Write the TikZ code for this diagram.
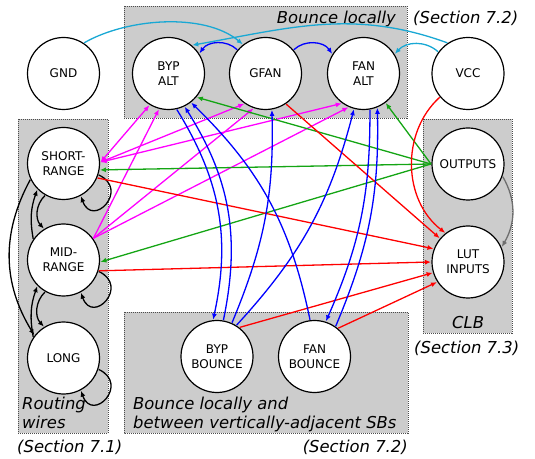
\documentclass[tikz,border=0pt]{standalone}
\usepackage{fontspec}
\setmainfont{DejaVu Sans}
\usetikzlibrary{arrows.meta}
\definecolor{boxgray}{RGB}{204,204,204}
\definecolor{cyanc}{RGB}{25,168,212}
\definecolor{bluec}{RGB}{0,0,255}
\definecolor{magc}{RGB}{255,0,255}
\definecolor{greenc}{RGB}{20,165,20}
\definecolor{redc}{RGB}{255,0,0}
\definecolor{grayc}{RGB}{110,110,110}
\begin{document}
\begin{tikzpicture}[x=1pt,y=1pt,
  >={Latex[length=6pt,width=5pt]},
  nd/.style={circle,draw=black,line width=1.2pt,fill=white,minimum size=72pt,
    inner sep=0pt,outer sep=1pt,align=center,font=\fontsize{12}{15}\selectfont},
  boxbg/.style={fill=boxgray},
  boxline/.style={draw=black!70,line width=0.9pt,dash pattern=on 1pt off 1pt},
  lbl/.style={font=\fontsize{16.4}{19}\selectfont\itshape,inner sep=0pt},
  ed/.style={line width=1.3pt},
  cy/.style={ed,draw=cyanc},
  bl/.style={ed,draw=bluec},
  mg/.style={ed,draw=magc},
  gr/.style={ed,draw=greenc},
  rd/.style={ed,draw=redc},
  gy/.style={ed,draw=grayc},
  bk/.style={ed,draw=black},
  selfloop/.style={bk,out=-25,in=-70,looseness=3.2}]
\useasboundingbox (0,0) rectangle (535,458);
% boxes
\fill[boxbg] (124,452) rectangle (407,340);
\draw[boxline] (124,452) rectangle (407,340);
\fill[boxbg] (18,339) rectangle (108,25);
\draw[boxline] (18,339) rectangle (108,25);
\fill[boxbg] (423,339) rectangle (512,125);
\draw[boxline] (423,339) rectangle (512,125);
\fill[boxbg] (124,146) rectangle (408,25);
\draw[boxline] (124,146) rectangle (408,25);
% labels
\node[lbl,anchor=base east] (lbltop) at (396,434) {Bounce locally};
\node[lbl,anchor=base west] (sectop) at (413,434) {(Section 7.2)};
\node[lbl,anchor=base west] (lblrw1) at (22,48.5) {Routing};
\node[lbl,anchor=base west] (lblrw2) at (22,29.5) {wires};
\node[lbl,anchor=base west] (secrw) at (17,6) {(Section 7.1)};
\node[lbl,anchor=base west] (lblbb1) at (133,49) {Bounce locally and};
\node[lbl,anchor=base west] (lblbb2) at (133,29.5) {between vertically-adjacent SBs};
\node[lbl,anchor=base east] (secbb) at (408,6) {(Section 7.2)};
\node[lbl,anchor=base west] (lblclb) at (452,129.5) {CLB};
\node[lbl,anchor=base west] (secclb) at (414,104.5) {(Section 7.3)};
% nodes
\node[nd] (gnd) at (63.5,384.5) {GND};
\node[nd] (bypalt) at (168.5,384.5) {BYP\\ALT};
\node[nd] (gfan) at (265.5,384.5) {GFAN};
\node[nd] (fanalt) at (363.5,384.5) {FAN\\ALT};
\node[nd] (vcc) at (468,384.5) {VCC};
\node[nd] (short) at (63.5,294.5) {SHORT-\\RANGE};
\node[nd] (mid) at (63.5,198) {MID-\\RANGE};
\node[nd] (long) at (63.5,100) {LONG};
\node[nd] (outputs) at (468,294) {OUTPUTS};
\node[nd] (lut) at (468,196) {LUT\\INPUTS};
\node[nd] (bypb) at (217,101.5) {BYP\\BOUNCE};
\node[nd] (fanb) at (314.5,101.5) {FAN\\BOUNCE};
% cyan
\draw[cy,->] (gnd.56) to[out=30,in=140,looseness=0.8] (gfan.128);
\draw[cy,->] (vcc.124) to[out=160,in=10] (bypalt.50);
\draw[cy,->] (vcc.144) to[bend right=45] (fanalt.32);
% blue short
\draw[bl,->] (gfan.140) to[bend right=50] (bypalt.33);
\draw[bl,->] (gfan.40) to[bend left=50] (fanalt.148);
% black
\draw[selfloop,->] (short.-18) to (short.-62);
\draw[selfloop,->] (mid.-18) to (mid.-62);
\draw[selfloop,->] (long.-18) to (long.-62);
\draw[bk,->] (mid.145) to[bend left=15] (short.-135);
\draw[bk,->] (short.-120) to[bend right=45] (mid.122);
\draw[bk,->] (long.145) to[bend left=15] (mid.-135);
\draw[bk,->] (mid.-120) to[bend right=45] (long.122);
\draw[bk,->] (short.-154) to[bend right=30] (long.142);
% magenta
\draw[mg,<->] (short.2) -- (bypalt.-121);
\draw[mg,<->] (short.2) -- (gfan.-125);
\draw[mg,<->] (short.2) -- (fanalt.-126);
\draw[mg,->] (mid.36) -- (bypalt.-105);
\draw[mg,->] (mid.36) -- (gfan.-109);
\draw[mg,->] (mid.36) -- (fanalt.-114);
% green
\draw[gr,->] (outputs.180) -- (short.-10);
\draw[gr,->] (outputs.180) -- (mid.-3);
\draw[gr,->] (outputs.180) -- (bypalt.-40);
\draw[gr,->] (outputs.180) -- (fanalt.-53);
% red
\draw[rd,->] (short.-23) -- (lut.159);
\draw[rd,->] (gfan.-56) -- (lut.140);
\draw[rd,->] (vcc.-140) to[bend right=50] (lut.128);
\draw[rd,->] (mid.-17) -- (lut.180);
\draw[rd,->] (bypb.52) -- (lut.197);
\draw[rd,->] (fanb.50) -- (lut.213);
% gray
\draw[gy,->] (outputs.-20) to[out=-60,in=60] (lut.24);
% blue long
\draw[bl,->] (bypalt.-77) to[bend left=22] (bypb.96);
\draw[bl,->] (bypb.80) to[bend right=22] (bypalt.-64);
\draw[bl,->] (bypb.66) to[bend right=12] (gfan.-80);
\draw[bl,->] (bypb.58) to[bend right=14] (fanalt.-105);
\draw[bl,->] (fanb.97) to[bend right=17] (bypalt.-52);
\draw[bl,->] (fanalt.-80) to[bend left=12] (fanb.72);
\draw[bl,->] (fanb.55) to[bend right=12] (fanalt.-68);
\end{tikzpicture}
\end{document}
